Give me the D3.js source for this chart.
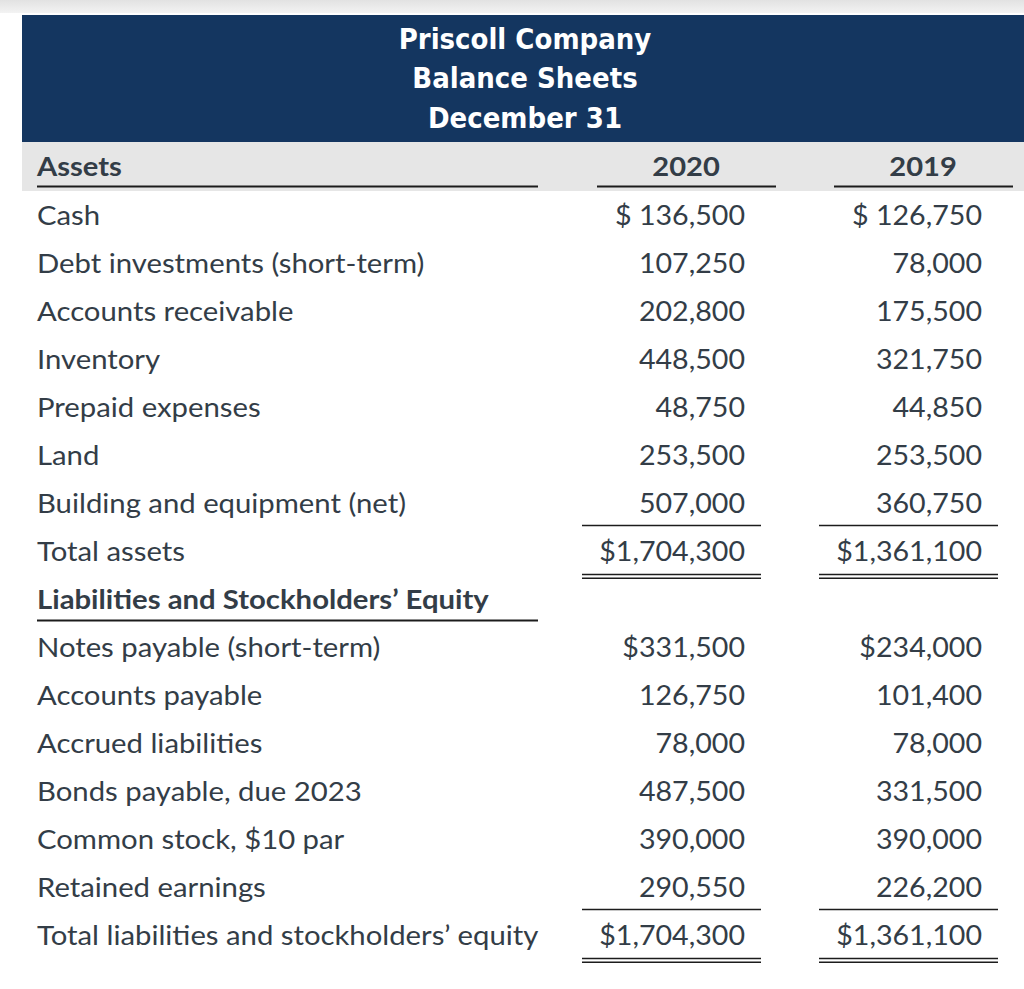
<!DOCTYPE html>
<html>
<head>
<meta charset="utf-8">
<script src="https://cdn.jsdelivr.net/npm/d3@7"></script>
<style>
  html, body { margin: 0; padding: 0; background: #ffffff; }
  svg { display: block; }
</style>
</head>
<body>
<svg id="chart" width="1024" height="989"></svg>
<script>
// ---- data ----
const titleLines = ["Priscoll Company", "Balance Sheets", "December 31"];
const sectionHeader = "Assets";
const years = ["2020", "2019"];
const rowLabels = [
  "Cash",
  "Debt investments (short-term)",
  "Accounts receivable",
  "Inventory",
  "Prepaid expenses",
  "Land",
  "Building and equipment (net)",
  "Total assets",
  "Liabilities and Stockholders\u2019 Equity",
  "Notes payable (short-term)",
  "Accounts payable",
  "Accrued liabilities",
  "Bonds payable, due 2023",
  "Common stock, $10 par",
  "Retained earnings",
  "Total liabilities and stockholders\u2019 equity"
];
const values2020 = [136500, 107250, 202800, 448500, 48750, 253500, 507000, 1704300, null,
                    331500, 126750, 78000, 487500, 390000, 290550, 1704300];
const values2019 = [126750, 78000, 175500, 321750, 44850, 253500, 360750, 1361100, null,
                    234000, 101400, 78000, 331500, 390000, 226200, 1361100];
const currencyPrefix = ["$ ", "", "", "", "", "", "", "$", "", "$", "", "", "", "", "", "$"];
const rowKinds = ["item","item","item","item","item","item","item","total","section",
                  "item","item","item","item","item","item","total"];

// ---- layout ----
const svg = d3.select("#chart");
const W = 1024;
const textColor = "#333d47";
const navy = "#143660";
const ruleColor = "#1c1c1c";
const fmt = d3.format(",");
const bodyFont = "Lato, 'Open Sans', sans-serif";
const fontBody = 27;
const labelStretch = 1.085;
const numberStretch = 1.06;
const headStretch = 1.078;
const titleStretch = 1.035;

const place = (x, y, sx) => `translate(${x},${y}) scale(${sx},1)`;

// top soft strip
const defs = svg.append("defs");
const grad = defs.append("linearGradient").attr("id", "topfade")
  .attr("x1", 0).attr("y1", 0).attr("x2", 0).attr("y2", 1);
grad.append("stop").attr("offset", "0%").attr("stop-color", "#e2e2e2");
grad.append("stop").attr("offset", "100%").attr("stop-color", "#f3f3f3");
svg.append("rect").attr("x", 0).attr("y", 0).attr("width", W).attr("height", 13)
  .attr("fill", "url(#topfade)");

// navy title block
const tableLeft = 22;
svg.append("rect").attr("x", tableLeft).attr("y", 15).attr("width", W - tableLeft).attr("height", 127)
  .attr("fill", navy);

const titleY = d3.scalePoint().domain(titleLines).range([48.5, 128]);
svg.selectAll("text.title").data(titleLines).join("text")
  .attr("class", "title")
  .attr("transform", d => place((tableLeft + W) / 2 + 2, titleY(d), titleStretch))
  .attr("text-anchor", "middle")
  .attr("font-family", "'DejaVu Sans Condensed', 'DejaVu Sans', sans-serif")
  .style("font-stretch", "condensed")
  .attr("font-weight", 700)
  .attr("font-size", 28)
  .attr("fill", "#ffffff")
  .text(d => d);

// gray column header band
svg.append("rect").attr("x", tableLeft).attr("y", 142).attr("width", W - tableLeft).attr("height", 49)
  .attr("fill", "#e6e6e6");

// scales
const y = d3.scaleBand().domain(d3.range(rowLabels.length)).range([191, 959]);
const colEnd = d3.scalePoint().domain(years).range([761, 998]); // right edge of rules per column
const labelX = 37;
const labelRuleEnd = 538;

const rowCenter = i => y(i) + y.bandwidth() / 2;
const baseline = i => rowCenter(i) + 10;

// header row
svg.append("text")
  .attr("transform", place(labelX, 175.5, headStretch))
  .attr("font-family", bodyFont).attr("font-weight", 700)
  .attr("font-size", fontBody).attr("fill", textColor)
  .text(sectionHeader);
svg.append("line").attr("x1", labelX).attr("x2", labelRuleEnd)
  .attr("y1", 186.5).attr("y2", 186.5).attr("stroke", ruleColor).attr("stroke-width", 2);

svg.selectAll("text.year").data(years).join("text")
  .attr("class", "year")
  .attr("transform", d => place(colEnd(d) - 75, 175.5, headStretch))
  .attr("text-anchor", "middle")
  .attr("font-family", bodyFont).attr("font-weight", 700)
  .attr("font-size", fontBody).attr("fill", textColor)
  .text(d => d);
svg.selectAll("line.yearrule").data(years).join("line")
  .attr("class", "yearrule")
  .attr("x1", d => colEnd(d) - 164).attr("x2", d => colEnd(d) + 15)
  .attr("y1", 186.5).attr("y2", 186.5)
  .attr("stroke", ruleColor).attr("stroke-width", 2);

// row labels
const rows = rowLabels.map((label, i) => ({
  label, i, kind: rowKinds[i],
  v: { "2020": values2020[i], "2019": values2019[i] },
  prefix: currencyPrefix[i]
}));

svg.selectAll("text.label").data(rows).join("text")
  .attr("class", "label")
  .attr("transform", d => place(labelX, baseline(d.i), labelStretch))
  .attr("font-family", bodyFont)
  .attr("font-weight", d => d.kind === "section" ? 700 : 400)
  .attr("font-size", fontBody)
  .attr("fill", textColor)
  .text(d => d.label);

// section underline
svg.selectAll("line.secrule").data(rows.filter(d => d.kind === "section")).join("line")
  .attr("class", "secrule")
  .attr("x1", labelX).attr("x2", labelRuleEnd)
  .attr("y1", d => rowCenter(d.i) + 21.5).attr("y2", d => rowCenter(d.i) + 21.5)
  .attr("stroke", ruleColor).attr("stroke-width", 2);

// values
years.forEach(yr => {
  const cells = rows.filter(d => d.v[yr] != null);
  svg.selectAll("text.val" + yr).data(cells).join("text")
    .attr("class", "val" + yr)
    .attr("transform", d => place(colEnd(yr) - 16, baseline(d.i), numberStretch))
    .attr("text-anchor", "end")
    .attr("font-family", bodyFont)
    .attr("font-size", fontBody)
    .attr("fill", textColor)
    .attr("xml:space", "preserve")
    .style("white-space", "pre")
    .text(d => d.prefix + fmt(d.v[yr]));

  const totals = rows.filter(d => d.kind === "total");
  // single rule above totals
  svg.selectAll("line.above" + yr).data(totals).join("line")
    .attr("class", "above" + yr)
    .attr("x1", colEnd(yr) - 179).attr("x2", colEnd(yr))
    .attr("y1", d => y(d.i) - 1.5).attr("y2", d => y(d.i) - 1.5)
    .attr("stroke", ruleColor).attr("stroke-width", 1.6);
  // double rule below totals
  [0, 3.8].forEach((off, k) => {
    svg.selectAll("line.below" + yr + k).data(totals).join("line")
      .attr("class", "below" + yr + k)
      .attr("x1", colEnd(yr) - 179).attr("x2", colEnd(yr))
      .attr("y1", d => y(d.i) + y.bandwidth() - 0.5 + off)
      .attr("y2", d => y(d.i) + y.bandwidth() - 0.5 + off)
      .attr("stroke", ruleColor).attr("stroke-width", 1.5);
  });
});
</script>
</body>
</html>
